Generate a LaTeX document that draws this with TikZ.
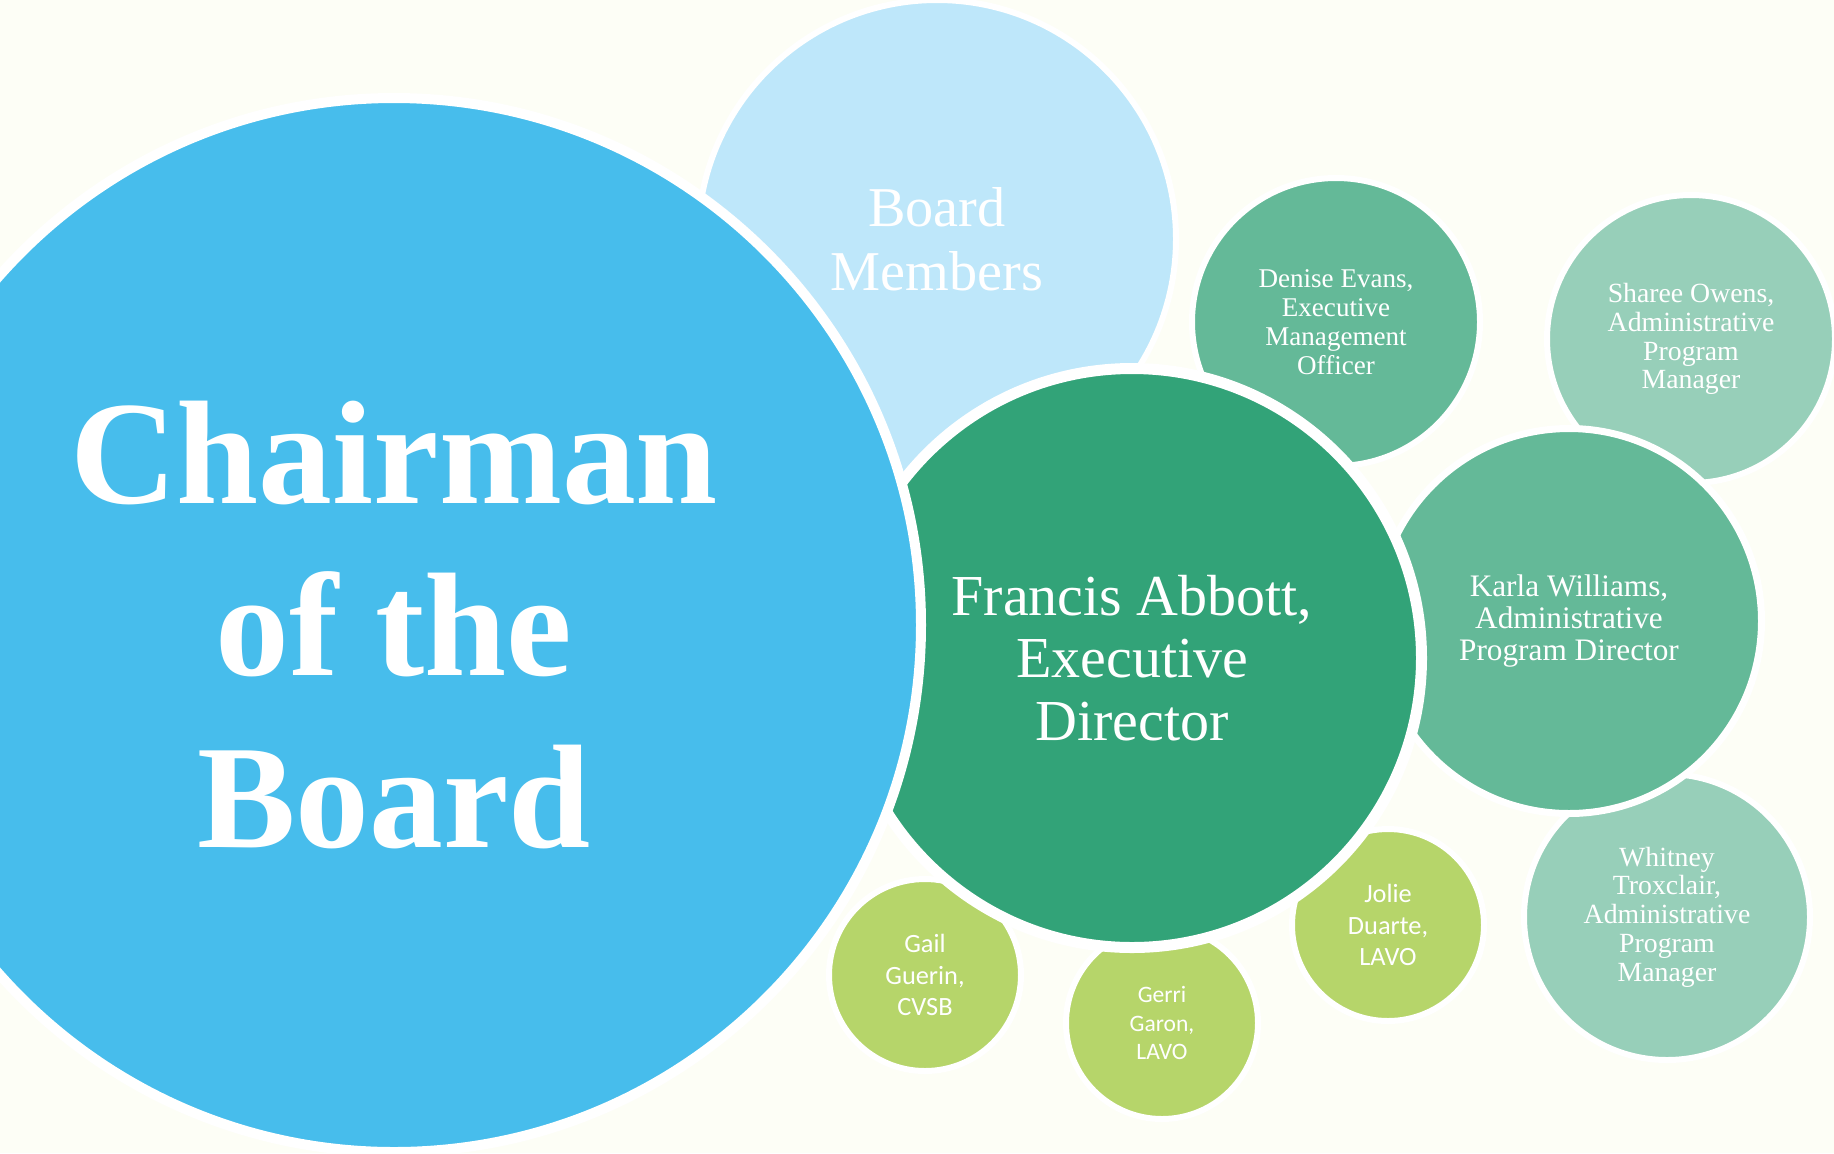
\documentclass[tikz,border=0pt]{standalone}
\usepackage{fontspec}
\setmainfont{Liberation Serif}
\newfontfamily\labelsans{Carlito}
\usepackage{xcolor}
\usepackage{tikz}

\definecolor{paper}{HTML}{FDFEF6}
\definecolor{chairblue}{HTML}{47BDEC}
\definecolor{boardblue}{HTML}{BEE7FA}
\definecolor{execgreen}{HTML}{32A378}
\definecolor{staffgreen}{HTML}{64B998}
\definecolor{mgrgreen}{HTML}{97CFB9}
\definecolor{lavolime}{HTML}{B6D56A}

\begin{document}
\begin{tikzpicture}[
  x=0.1mm, y=-0.1mm,
  bubble/.style   = {circle, draw=white, line width=0.6mm, text=white,
                     align=center, inner sep=0pt},
  chairbub/.style = {bubble, fill=chairblue, line width=1mm,
                     font=\fontsize{42}{49}\selectfont\bfseries},
  boardbub/.style = {bubble, fill=boardblue, font=\fontsize{16}{18.2}\selectfont},
  execbub/.style  = {bubble, fill=execgreen, line width=1.1mm,
                     font=\fontsize{16.5}{17.8}\selectfont},
  staffbub/.style = {bubble, fill=staffgreen, font=\fontsize{7.7}{8.2}\selectfont},
  mgrbub/.style   = {bubble, fill=mgrgreen, font=\fontsize{7.9}{8.2}\selectfont},
  lavobub/.style  = {bubble, fill=lavolime, font=\labelsans\fontsize{7.5}{9}\selectfont},
]

%% ── Canvas ────────────────────────────────────────────────────────
\fill[paper] (0,0) rectangle (1834,1153);
\useasboundingbox (0,0) rectangle (1834,1153);

%% ── Back row (drawn first, partly covered) ────────────────────────
\node[mgrbub, minimum size=28.8mm] (sharee) at (1691,339)
    {Sharee Owens,\\Administrative\\Program\\Manager};
\node[mgrbub, minimum size=28.6mm] (whitney) at (1667,917)
    {Whitney\\Troxclair,\\Administrative\\Program\\Manager};
\node[staffbub, minimum size=28.8mm] (denise) at (1336,322)
    {Denise Evans,\\Executive\\Management\\Officer};
\node[boardbub, minimum size=47.8mm] (board) at (937,239)
    {Board\\Members};
\node[staffbub, line width=0.7mm, minimum size=38.5mm,
      font=\fontsize{8.9}{9.2}\selectfont] (karla) at (1569,621)
    {Karla Williams,\\Administrative\\Program Director};

%% ── Small bubbles round the director ─────────────────────────────
\node[lavobub, minimum size=19.2mm] (gail)  at (925,975)  {Gail\\Guerin,\\CVSB};
\node[lavobub, minimum size=19.2mm,
      font=\labelsans\fontsize{6.7}{8}\selectfont] (gerri) at (1162,1023) {Gerri\\Garon,\\LAVO};
\node[lavobub, minimum size=19.2mm] (jolie) at (1388,925) {Jolie\\Duarte,\\LAVO};

%% ── Front ─────────────────────────────────────────────────────────
\node[execbub, minimum size=57.9mm] (francis) at (1132,658)
    {Francis Abbott,\\Executive\\Director};
\node[chairbub, minimum size=105.4mm] (chair) at (394,625)
    {Chairman\\of the\\Board};

\end{tikzpicture}
\end{document}
